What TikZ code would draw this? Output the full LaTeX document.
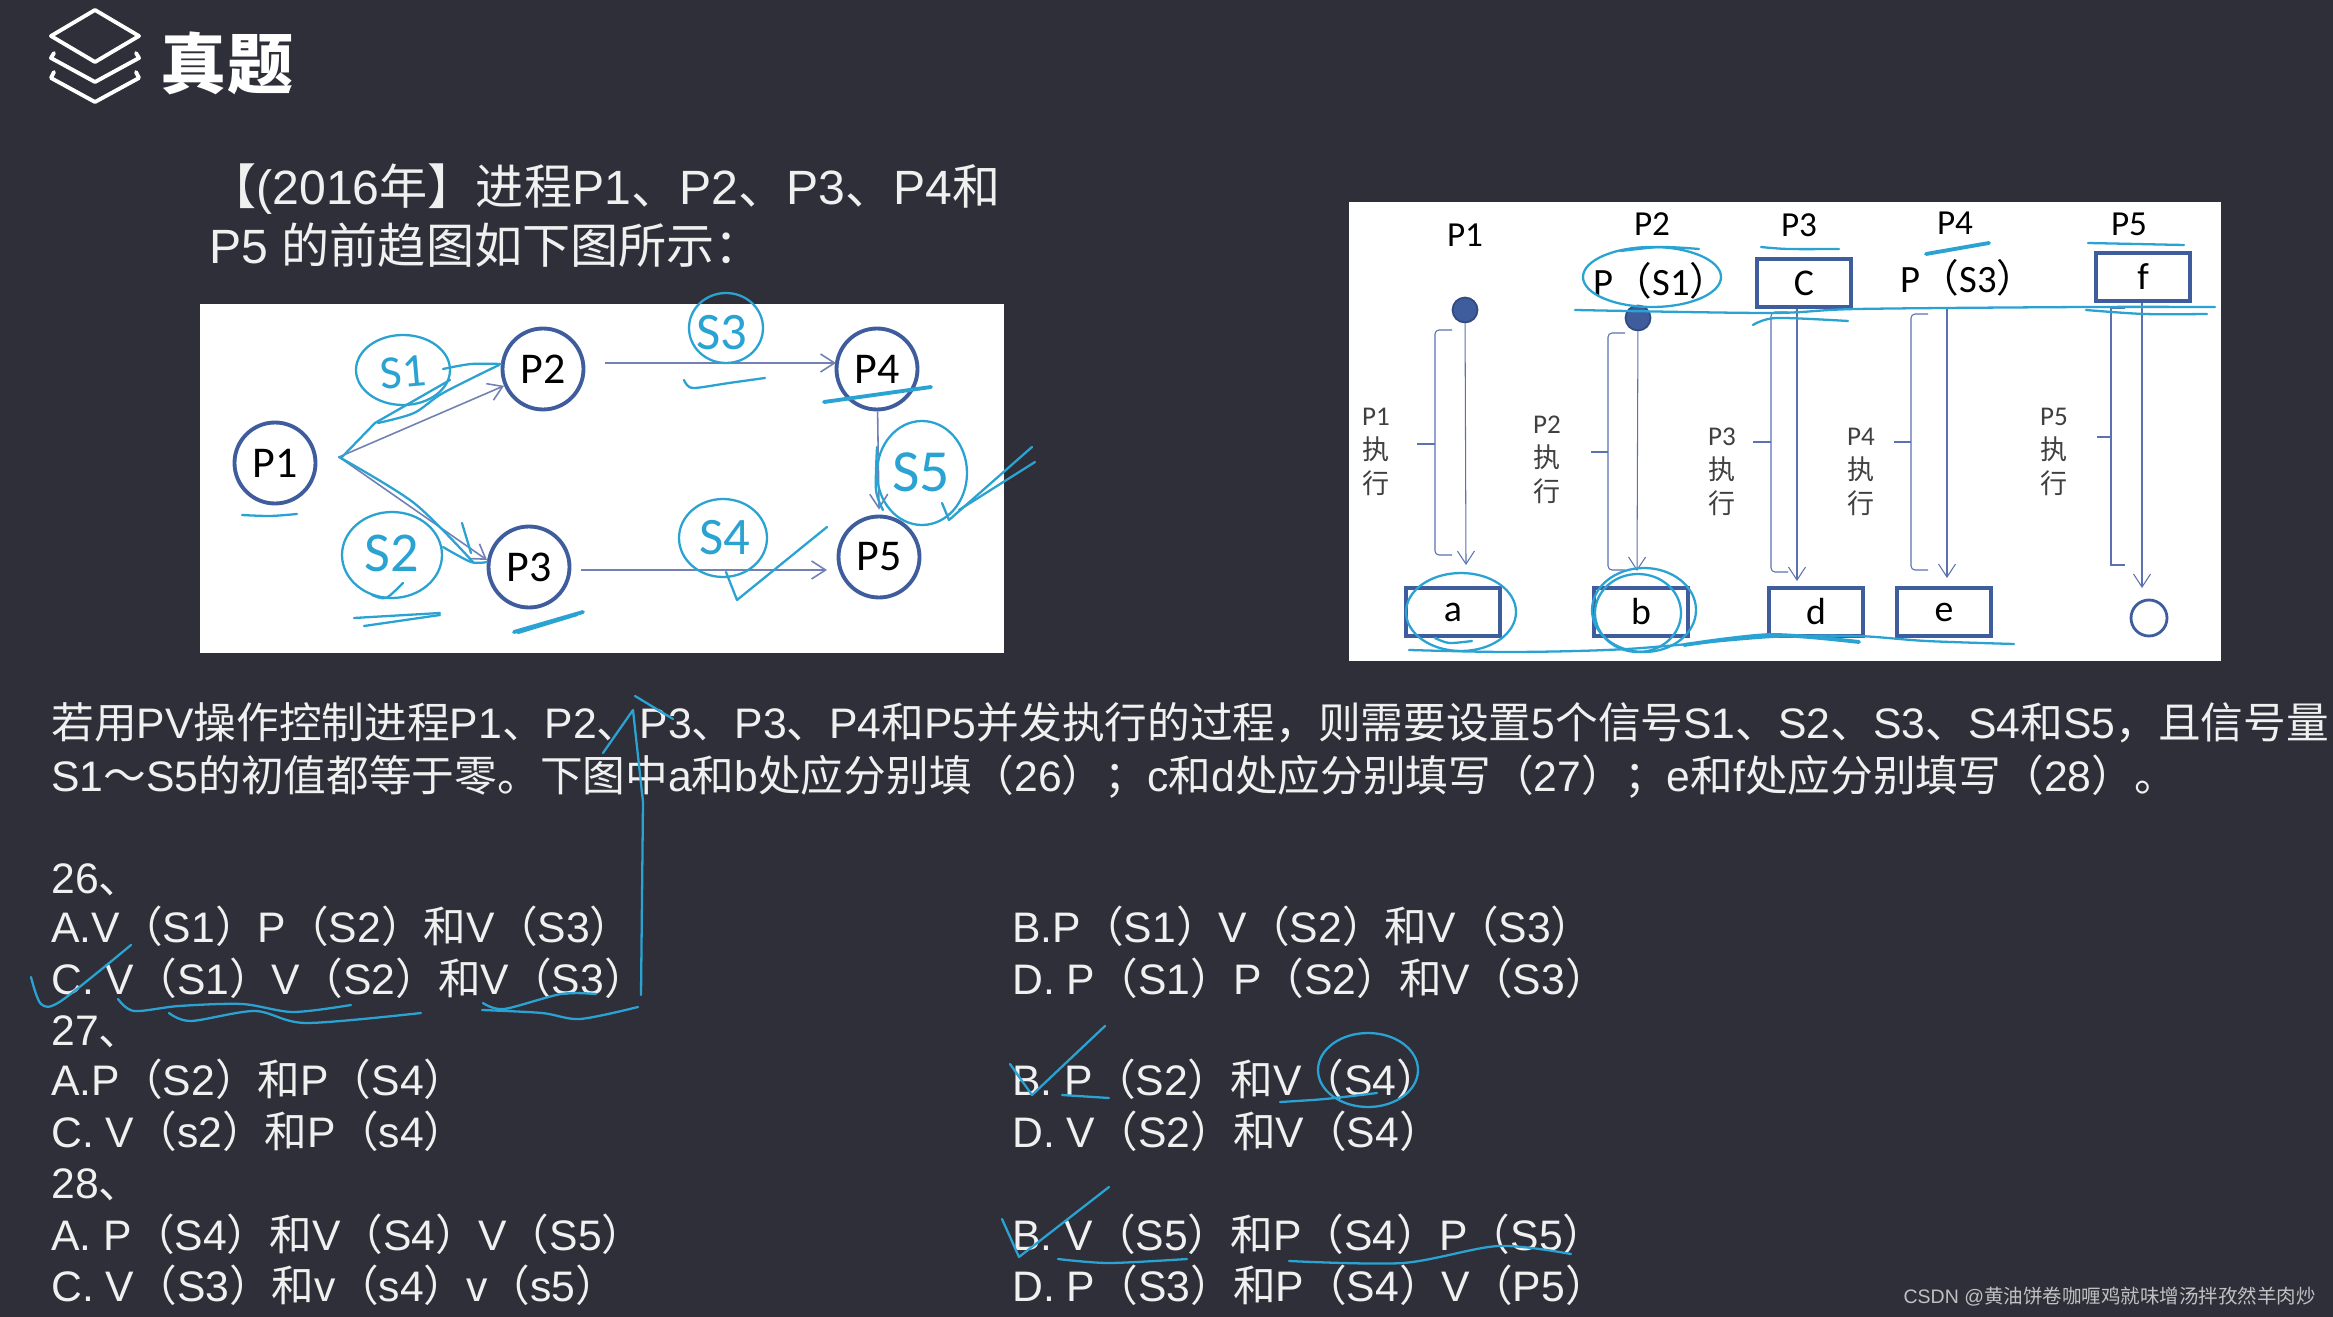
\documentclass[tikz,border=0pt]{standalone}
\usepackage{fontspec}
\setmainfont{Liberation Sans}
\newfontfamily\cjk{Noto Sans CJK SC}
\newfontfamily\carlito{Carlito}
\usepackage{xcolor}
\usetikzlibrary{arrows.meta, positioning, shapes.geometric}

% Chinese characters switch to the CJK family by themselves
\XeTeXinterchartokenstate=1
\newXeTeXintercharclass\cjkclass
\newcount\cjkcode
\cjkcode="4E00
\loop
  \XeTeXcharclass\cjkcode=\cjkclass
  \ifnum\cjkcode<"9FFF \advance\cjkcode by 1 \repeat
\XeTeXcharclass`、=\cjkclass
\XeTeXcharclass`。=\cjkclass
\XeTeXcharclass`，=\cjkclass
\XeTeXcharclass`；=\cjkclass
\XeTeXcharclass`：=\cjkclass
\XeTeXcharclass`【=\cjkclass
\XeTeXcharclass`】=\cjkclass
\XeTeXcharclass`（=\cjkclass
\XeTeXcharclass`）=\cjkclass
\XeTeXcharclass`～=\cjkclass
\def\latinfont{\rmfamily}
\XeTeXinterchartoks 0 \cjkclass={\cjk}
\XeTeXinterchartoks 4095 \cjkclass={\cjk}
\XeTeXinterchartoks \cjkclass 0={\latinfont}
\newcommand{\figfont}[2]{\def\latinfont{\carlito}\carlito\fontsize{#1}{#2}\selectfont}

\definecolor{slidebg}{HTML}{2E2F38}
\definecolor{slidetext}{HTML}{F0F0F0}
\definecolor{inkblue}{HTML}{2AA3D3}
\definecolor{ringblue}{HTML}{3F5C9C}
\definecolor{flowblue}{HTML}{7280B4}
\definecolor{lineblue}{HTML}{5A73B0}
\definecolor{labelgray}{HTML}{404040}

\begin{document}
\begin{tikzpicture}[
    x=0.02cm, y=-0.02cm,
    slideline/.style={anchor=base west, inner sep=0pt, text=slidetext, font=\fontsize{24.3}{29}\selectfont},
    introline/.style={anchor=base west, inner sep=0pt, text=slidetext, font=\fontsize{27.4}{32}\selectfont},
    proc/.style={circle, draw=ringblue, line width=2.2pt, fill=white, minimum size=1.62cm, inner sep=0pt, font=\figfont{25}{30}},
    flow/.style={draw=flowblue, line width=0.9pt, -{Straight Barb[length=0.28cm,width=0.36cm]}},
    exec/.style={draw=lineblue, line width=0.6pt, -{Straight Barb[length=0.26cm,width=0.34cm]}},
    bracket/.style={draw=lineblue, line width=0.6pt, rounded corners=0.08cm},
    slot/.style={rectangle, draw=ringblue, line width=2pt, fill=white, minimum width=1.88cm, minimum height=0.96cm, inner sep=0pt, font=\figfont{21.5}{25}},
    toplabel/.style={inner sep=0pt, font=\figfont{20}{24}},
    execlabel/.style={inner sep=0pt, align=center, text=labelgray, font=\figfont{15.4}{19.3}},
    dot/.style={circle, draw=ringblue!80!black, line width=1pt, fill=ringblue, minimum size=0.5cm, inner sep=0pt},
    ink/.style={draw=inkblue, line width=1.3pt, line cap=round, line join=round},
    inkbold/.style={ink, line width=2.2pt},
    inktext/.style={inner sep=0pt, text=inkblue, font=\figfont{27}{30}}
]
    % Slide background and the two white figures
    \useasboundingbox (0,0) rectangle (2333,1317);
    \fill[slidebg] (0,0) rectangle (2333,1317);
    \fill[white] (200,304) rectangle (1004,653);
    \fill[white] (1349,202) rectangle (2221,661);

    % Heading icon and title
    \draw[white, line width=2.2pt, line join=round] (95,10) -- (139,36) -- (95,62) -- (51,36) -- cycle;
    \draw[white, line width=2.2pt, line join=round, line cap=round] (54,53) -- (51,58) -- (95,82) -- (139,58) -- (136,53);
    \draw[white, line width=2.2pt, line join=round, line cap=round] (54,72) -- (51,78) -- (95,102) -- (139,78) -- (136,72);
    \node[inner sep=0pt, text=white, font=\bfseries\fontsize{37.6}{44}\selectfont] (title) at (227,63) {真题};

    % Question text
    \node[introline] (intro1) at (208,205) {【(2016年】进程P1、P2、P3、P4和};
    \node[introline] (intro2) at (209,264) {P5 的前趋图如下图所示：};
    \node[slideline] (para1) at (51,738) {若用PV操作控制进程P1、P2、P3、P3、P4和P5并发执行的过程，则需要设置5个信号S1、S2、S3、S4和S5，且信号量};
    \node[slideline] (para2) at (51,791) {S1～S5的初值都等于零。下图中a和b处应分别填（26）；c和d处应分别填写（27）；e和f处应分别填写（28）。};

    % Choices, left column
    \node[slideline] (q26) at (51,893) {26、};
    \node[slideline] (q26a) at (51,942) {A.V（S1）P（S2）和V（S3）};
    \node[slideline] (q26c) at (51,994) {C. V（S1）V（S2）和V（S3）};
    \node[slideline] (q27) at (51,1045) {27、};
    \node[slideline] (q27a) at (51,1095) {A.P（S2）和P（S4）};
    \node[slideline] (q27c) at (51,1147) {C. V（s2）和P（s4）};
    \node[slideline] (q28) at (51,1198) {28、};
    \node[slideline] (q28a) at (51,1250) {A. P（S4）和V（S4）V（S5）};
    \node[slideline] (q28c) at (51,1301) {C. V（S3）和v（s4）v（s5）};

    % Choices, right column
    \node[slideline] (q26b) at (1012,942) {B.P（S1）V（S2）和V（S3）};
    \node[slideline] (q26d) at (1012,994) {D. P（S1）P（S2）和V（S3）};
    \node[slideline] (q27b) at (1012,1095) {B. P（S2）和V（S4）};
    \node[slideline] (q27d) at (1012,1147) {D. V（S2）和V（S4）};
    \node[slideline] (q28b) at (1012,1250) {B. V（S5）和P（S4）P（S5）};
    \node[slideline] (q28d) at (1012,1301) {D. P（S3）和P（S4）V（P5）};

    % Precedence graph
    \node[proc] (P1) at (275,463) {P1};
    \node[proc] (P2) at (543,369) {P2};
    \node[proc] (P3) at (529,567) {P3};
    \node[proc] (P4) at (877,369) {P4};
    \node[proc] (P5) at (879,557) {P5};
    \coordinate (fork) at (339,457);
    \coordinate (in3) at (487,560);
    \coordinate (in4) at (836,363);
    \coordinate (in5) at (827,570);
    \draw[flow] (fork) -- (P2);
    \draw[flow] (fork) -- (in3);
    \draw[flow] ([xshift=0.4cm]P2.east |- in4) -- (in4);
    \draw[flow] ([xshift=0.2cm]P3.east |- in5) -- (in5);
    \draw[flow] (P4) -- ([yshift=0.1cm]P5.north);

    % Execution chart, boxes and dots
    \node[toplabel] (head1) at (1465,235) {P1};
    \node[toplabel] (head2) at (1652,224) {P2};
    \node[toplabel] (head3) at (1799,225) {P3};
    \node[toplabel] (head4) at (1955,223) {P4};
    \node[toplabel] (head5) at (2129,224) {P5};
    \node[toplabel, font=\figfont{22}{26}] (waitS1) at (1661,281) {P（S1）};
    \node[toplabel, font=\figfont{22}{26}] (waitS3) at (1968,278) {P（S3）};
    \node[slot] (boxC) at (1804,283) {C};
    \node[slot] (boxF) at (2143,277) {f};
    \node[slot] (boxA) at (1453,612) {a};
    \node[slot] (boxB) at (1641,612) {b};
    \node[slot] (boxD) at (1816,612) {d};
    \node[slot] (boxE) at (1944,612) {e};
    \node[circle, draw=ringblue, line width=1.6pt, minimum size=0.72cm, inner sep=0pt] (finish) at (2149,618) {};
    \node[dot] (dot1) at (1465,310) {};
    \node[dot] (dot2) at (1638,318) {};

    % Execution chart, arrows
    \coordinate (end1) at (1466,565);
    \coordinate (end2) at (1637,571);
    \coordinate (end3) at (1797,581);
    \coordinate (end4) at (1947,578);
    \coordinate (end5) at (2142,588);
    \draw[exec] (dot1) -- (end1);
    \draw[exec] (dot2) -- (end2);
    \draw[exec] (boxC.south -| end3) -- (end3);
    \draw[exec] (end4 |- waitS3.south) ++(0,12) -- (end4);
    \draw[exec] (boxF.south -| end5) -- (end5);

    % Brackets: spine x, tip x, tick x, top y, bottom y, tick y
    \foreach \sx/\tx/\kx/\ty/\by/\my in {1435/1452/1417/330/555/444, 1608/1625/1591/333/570/452,
        1771/1788/1753/312/572/442, 1911/1928/1894/314/570/442} {
        \draw[bracket] (\tx,\ty) -- (\sx,\ty) -- (\sx,\by) -- (\tx,\by);
        \draw[bracket] (\kx,\my) -- (\sx,\my);
    }
    \draw[bracket, rounded corners=0pt] (2125,308) -- (2111,308) -- (2111,565) -- (2125,565);
    \draw[bracket] (2097,437) -- (2111,437);

    % Vertical labels
    \node[execlabel] (run1) at (1376,452) {P1\\执\\行};
    \node[execlabel] (run2) at (1547,460) {P2\\执\\行};
    \node[execlabel] (run3) at (1722,472) {P3\\执\\行};
    \node[execlabel] (run4) at (1861,472) {P4\\执\\行};
    \node[execlabel] (run5) at (2054,452) {P5\\执\\行};

    % Pen marks on the precedence graph
    \node[inktext, rotate=5] (markS1) at (403,372) {S1};
    \node[inktext, font=\figfont{32}{36}] (markS2) at (392,553) {S2};
    \node[inktext, font=\figfont{30}{34}] (markS3) at (722,333) {S3};
    \node[inktext, font=\figfont{30}{34}] (markS4) at (725,538) {S4};
    \node[inktext, font=\figfont{34}{38}] (markS5) at (921,472) {S5};
    \draw[ink] (403,370) ellipse [x radius=47, y radius=35];
    \draw[ink] (392,555) ellipse [x radius=50, y radius=43];
    \draw[ink] (726,328) ellipse [x radius=37, y radius=35];
    \draw[ink] (723,538) ellipse [x radius=44, y radius=39];
    \draw[ink] (922,473) ellipse [x radius=45, y radius=52];
    \draw[ink] plot[smooth] coordinates {(242,515) (270,516) (297,514)};
    \draw[ink] plot[smooth] coordinates {(684,380) (687,385) (695,388) (729,383) (765,378)};
    \draw[inkbold] (824,402) -- (931,387);
    \draw[ink] plot[smooth] coordinates {(378,423) (414,413) (443,393) (499,365)};
    \draw[ink] (342,457) -- (375,423) -- (450,380);
    \draw[ink] plot[smooth] coordinates {(443,369) (471,364) (501,364)};
    \draw[ink] plot[smooth] coordinates {(339,457) (414,503) (473,562)};
    \draw[ink] plot[smooth] coordinates {(443,547) (471,562) (487,562)};
    \draw[ink] (462,523) -- (471,553);
    \draw[ink] plot[smooth] coordinates {(372,595) (386,598) (403,583)};
    \draw[ink] (354,618) -- (440,613);
    \draw[ink] (364,626) -- (440,615);
    \draw[inkbold] (514,632) -- (583,612);
    \draw[ink] (518,633) -- (577,615);
    \draw[ink] (726,572) -- (737,600) -- (827,527);
    \draw[ink] (942,503) -- (949,520) -- (1032,447);
    \draw[ink] (959,510) -- (1035,462);
    \draw[ink] plot[smooth] coordinates {(877,447) (876,490) (883,510)};

    % Pen marks on the execution chart
    \draw[ink] (1652,277) ellipse [x radius=69, y radius=30];
    \draw[ink] (1461,612) ellipse [x radius=55, y radius=39];
    \draw[ink] (1644,610) ellipse [x radius=52, y radius=42];
    \draw[ink] (1638,613) ellipse [x radius=43, y radius=39];
    \draw[ink] plot[smooth] coordinates {(1621,251) (1661,247) (1699,249)};
    \draw[ink] plot[smooth] coordinates {(1575,310) (1770,313) (1857,309) (2086,307) (2215,307)};
    \draw[ink] plot[smooth] coordinates {(1753,325) (1776,318) (1848,321)};
    \draw[ink] plot[smooth] coordinates {(2086,310) (2144,314) (2207,314)};
    \draw[ink] plot[smooth] coordinates {(1761,247) (1788,249) (1839,249)};
    \draw[inkbold] (1926,254) -- (1989,243);
    \draw[ink] (2088,243) -- (2184,245);
    \draw[ink] plot[smooth] coordinates {(1409,650) (1512,652) (1627,649) (1771,637) (1857,636) (1926,641) (2014,644)};
    \draw[inkbold] plot[smooth] coordinates {(1684,645) (1771,635) (1859,642)};
    \draw[ink] plot[smooth] coordinates {(1435,638) (1449,643) (1472,641)};

    % Pen marks on the choices
    \draw[ink] plot[smooth] coordinates {(31,977) (41,1004) (61,1001) (131,945)};
    \draw[ink] plot[smooth] coordinates {(118,999) (134,1011) (179,1006) (242,1004) (293,1012) (351,1005)};
    \draw[ink] plot[smooth] coordinates {(169,1013) (191,1021) (255,1011) (306,1023) (421,1013)};
    \draw[ink] plot[smooth] coordinates {(483,1003) (504,1009) (561,994) (596,994)};
    \draw[ink] plot[smooth] coordinates {(482,1010) (542,1013) (580,1019) (638,1007)};
    \draw[ink] (641,995) -- (643,802) -- (633,710) -- (603,753);
    \draw[ink] (635,696) -- (673,719);
    \draw[ink] (1010,1064) -- (1032,1095) -- (1105,1026);
    \draw[ink] (1062,1095) -- (1109,1098);
    \draw[ink] plot[smooth] coordinates {(1280,1102) (1325,1099) (1377,1093)};
    \draw[ink] (1368,1070) ellipse [x radius=50, y radius=37];
    \draw[ink] (1002,1219) -- (1019,1257) -- (1109,1187);
    \draw[ink] plot[smooth] coordinates {(1058,1259) (1109,1263) (1187,1259)};
    \draw[ink] plot[smooth] coordinates {(1289,1261) (1403,1263) (1498,1246) (1571,1254)};

    % Watermark
    \node[anchor=east, inner sep=0pt, text=white!70!slidebg, font=\fontsize{11.1}{14}\selectfont] (mark) at (2316,1297) {CSDN @黄油饼卷咖喱鸡就味增汤拌孜然羊肉炒};
\end{tikzpicture}
\end{document}
